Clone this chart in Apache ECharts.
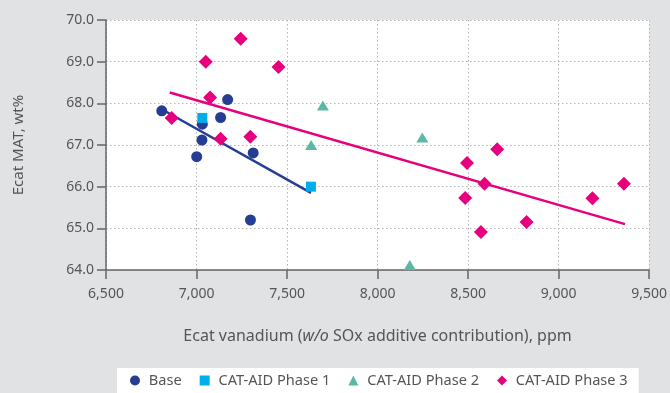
<!DOCTYPE html>
<html>
<head>
<meta charset="utf-8">
<script src="https://cdn.jsdelivr.net/npm/echarts@6/dist/echarts.min.js"></script>
<style>
html,body{margin:0;padding:0;background:#e1e2e4;}
#chart{width:670px;height:393px;}
</style>
</head>
<body>
<div id="chart"></div>
<script>
var seriesNames = ['Base', 'CAT-AID Phase 1', 'CAT-AID Phase 2', 'CAT-AID Phase 3'];
var baseData = [[6808, 67.82], [7001, 66.72], [7030, 67.12], [7032, 67.50], [7133, 67.66], [7172, 68.09], [7298, 65.20], [7313, 66.81]];
var phase1Data = [[7032, 67.65], [7632, 66.00]];
var phase2Data = [[7698, 67.95], [7633, 67.00], [8247, 67.18], [8178, 64.12]];
var phase3Data = [[6863, 67.65], [7051, 69.00], [7075, 68.14], [7244, 69.55], [7133, 67.15], [7297, 67.20], [7453, 68.87], [8494, 66.57], [8661, 66.90], [8591, 66.07], [8484, 65.73], [8571, 64.91], [8823, 65.15], [9187, 65.72], [9361, 66.07]];
var baseTrend = [[6815, 67.84], [7632, 65.85]];
var phase3Trend = [[6852, 68.26], [9367, 65.10]];
var xTicks = [6500, 9500, 500];
var yTicks = [64, 70, 1];

var colors = ['#253e93', '#00afe9', '#5cb8a6', '#e6007e'];
var chart = echarts.init(document.getElementById('chart'));
var font = 'Noto Sans';
chart.setOption({
  backgroundColor: '#e1e2e4',
  animation: false,
  textStyle: {fontFamily: font},
  grid: {left: 106, right: 20, top: 20, bottom: 123, show: true, backgroundColor: '#ffffff', borderWidth: 0},
  legend: {
    bottom: 0, left: 117,
    backgroundColor: '#ffffff',
    padding: [5, 11, 5, 13],
    itemWidth: 10, itemHeight: 10, itemGap: 18,
    textStyle: {color: '#555', fontSize: 14.6, fontFamily: font},
    formatter: function (name) { return ' ' + name; },
    data: [
      {name: seriesNames[0], icon: 'circle'},
      {name: seriesNames[1], icon: 'rect'},
      {name: seriesNames[2], icon: 'triangle'},
      {name: seriesNames[3], icon: 'diamond'}
    ]
  },
  xAxis: {
    type: 'value', min: xTicks[0], max: xTicks[1], interval: xTicks[2],
    name: '{n|Ecat vanadium (}{i|w/o}{n| SOx additive contribution), ppm}',
    nameLocation: 'middle', nameGap: 58,
    nameTextStyle: {rich: {n: {fontSize: 16, color: '#555', fontFamily: font}, i: {fontSize: 16, color: '#555', fontStyle: 'italic', fontFamily: font}}},
    axisLine: {lineStyle: {color: '#666', width: 1.5}},
    axisTick: {show: true, length: 9, lineStyle: {color: '#666', width: 1.5}},
    axisLabel: {color: '#555', fontSize: 14, margin: 17, formatter: function (v) { return v.toLocaleString('en-US'); }},
    splitLine: {show: true, lineStyle: {color: '#b4b4b4', type: [1.5, 2.5], width: 1}}
  },
  yAxis: {
    type: 'value', min: yTicks[0], max: yTicks[1], interval: yTicks[2],
    name: 'Ecat MAT, wt%', nameLocation: 'middle', nameGap: 80, nameRotate: 90,
    nameTextStyle: {fontSize: 15, color: '#555'},
    axisLine: {show: true, lineStyle: {color: '#666', width: 1.5}},
    axisTick: {show: true, length: 9, lineStyle: {color: '#666', width: 1.5}},
    axisLabel: {color: '#555', fontSize: 14, margin: 12, formatter: function (v) { return v.toFixed(1); }},
    splitLine: {show: true, lineStyle: {color: '#b4b4b4', type: [1.5, 2.5], width: 1}}
  },
  series: [
    {name: seriesNames[0], type: 'line', data: baseTrend, symbol: 'none', lineStyle: {color: colors[0], width: 2.5}, itemStyle: {color: colors[0]}, z: 1},
    {name: seriesNames[3], type: 'line', data: phase3Trend, symbol: 'none', lineStyle: {color: colors[3], width: 2.5}, itemStyle: {color: colors[3]}, z: 1},
    {name: seriesNames[0], type: 'scatter', data: baseData, symbol: 'circle', symbolSize: 11, itemStyle: {color: colors[0], opacity: 1}, z: 3},
    {name: seriesNames[1], type: 'scatter', data: phase1Data, symbol: 'rect', symbolSize: 10, itemStyle: {color: colors[1], opacity: 1}, z: 4},
    {name: seriesNames[2], type: 'scatter', data: phase2Data, symbol: 'triangle', symbolSize: [12, 10], itemStyle: {color: colors[2], opacity: 1}, z: 3},
    {name: seriesNames[3], type: 'scatter', data: phase3Data, symbol: 'diamond', symbolSize: [14, 14], itemStyle: {color: colors[3], opacity: 1}, z: 3}
  ]
});
</script>
</body>
</html>
